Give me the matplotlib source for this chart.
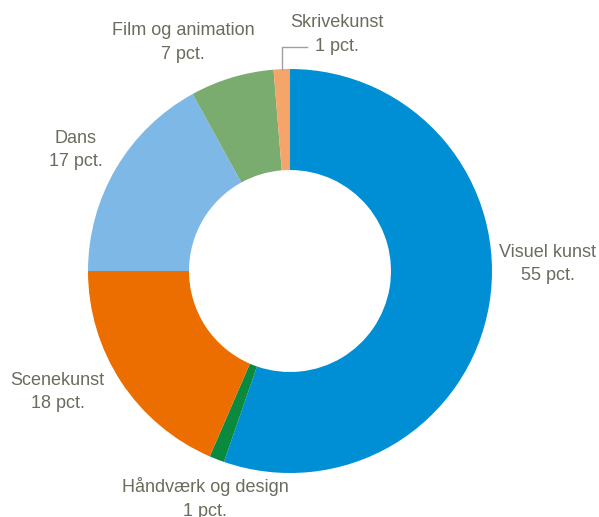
import matplotlib
matplotlib.use('Agg')
import matplotlib.pyplot as plt

labels = ['Visuel kunst', 'Håndværk og design', 'Scenekunst', 'Dans', 'Film og animation', 'Skrivekunst']
values = [55.3, 1.2, 18.5, 17.0, 6.7, 1.3]
pct_text = ['55 pct.', '1 pct.', '18 pct.', '17 pct.', '7 pct.', '1 pct.']
colors = ['#008fd5', '#0a8a3f', '#ec6e00', '#7db8e6', '#7aab6f', '#f5a46a']

# label anchor positions (pie data units, radius 1)
label_pos = [(1.275, 0.035), (-0.42, -1.125), (-1.15, -0.60), (-1.06, 0.60), (-0.53, 1.13), (0.23, 1.17)]

plt.rcParams['font.family'] = ['Liberation Sans', 'DejaVu Sans']
txt_color = '#6b6b5e'

fig = plt.figure(figsize=(5.99, 5.17), dpi=100)
ax = fig.add_axes([88/599, 44/517, 404/599, 404/517])
ax.pie(values, colors=colors, startangle=90, counterclock=False,
       wedgeprops=dict(width=0.5, edgecolor='none'))
ax.set_xlim(-1, 1)
ax.set_ylim(-1, 1)

for lab, pct, (x, y) in zip(labels, pct_text, label_pos):
    ax.text(x, y, lab + '\n' + pct, ha='center', va='center', fontsize=13,
            color=txt_color, linespacing=1.5, clip_on=False)

# leader line for Skrivekunst
ax.plot([-0.04, -0.04, 0.085], [1.0, 1.11, 1.11], color='#a0a09a', lw=1, clip_on=False)

fig.savefig('out.png', dpi=100)
